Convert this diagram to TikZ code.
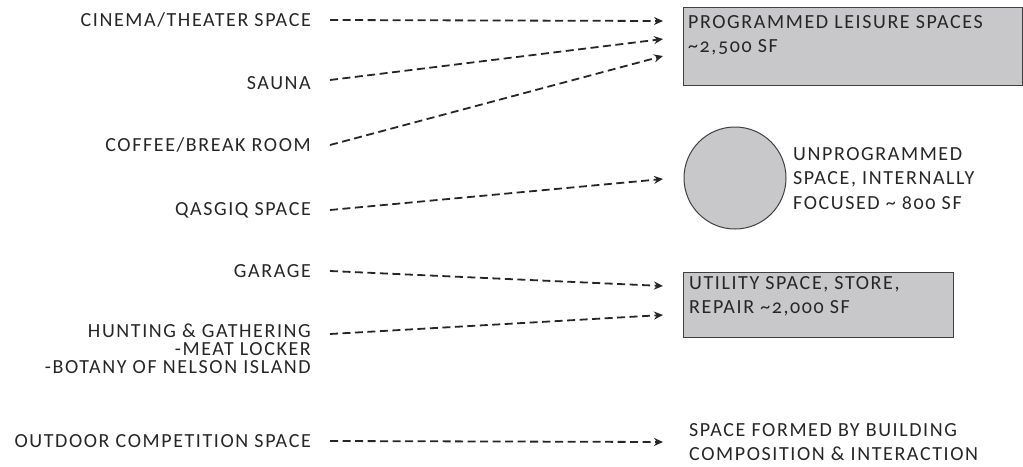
\documentclass[tikz,border=0pt]{standalone}
\usepackage{fontspec}
\setmainfont{Carlito}[Numbers=OldStyle,LetterSpace=8]
\usetikzlibrary{positioning,arrows.meta}
\definecolor{roomgray}{RGB}{200,199,201}
\definecolor{inkgray}{RGB}{38,38,38}

\begin{document}
\begin{tikzpicture}
      [x=1pt,y=-1pt,
      every node/.style={font=\fontsize{20}{15}\selectfont,text=inkgray,inner sep=0pt},
      use/.style={anchor=east,align=right},
      flow/.style={draw=inkgray,line width=1.8pt,dash pattern=on 8pt off 4.5pt,-{Stealth[length=9pt,width=8pt]}},
      room/.style={draw=black!75,fill=roomgray,line width=1pt,anchor=north west},
      roomtext/.style={anchor=north west,align=left,font=\fontsize{20}{24.5}\selectfont}]
     \useasboundingbox (0,0) rectangle (1023,466);
     % program uses
     \node[use] (cinema) at (311,20) {CINEMA/THEATER SPACE};
     \node[use] (sauna) at (311,83) {SAUNA};
     \node[use] (coffee) at (311,145) {COFFEE/BREAK ROOM};
     \node[use] (qasgiq) at (311,210) {QASGIQ SPACE};
     \node[use] (garage) at (311,271) {GARAGE};
     \node[use] (hunting) at (311,331) {HUNTING \& GATHERING};
     \node[use,below=4.5pt of hunting.south east,anchor=north east] (meat) {-MEAT LOCKER};
     \node[use,below=4.5pt of meat.south east,anchor=north east] (botany) {-BOTANY OF NELSON ISLAND};
     \node[use] (outdoor) at (311,441) {OUTDOOR COMPETITION SPACE};
     % spaces
     \node[room,minimum width=339pt,minimum height=78pt] (leisure) at (683,7) {};
     \node[roomtext] (leisuretxt) at (688,15) {PROGRAMMED LEISURE SPACES\\\textasciitilde2,500 SF};
     \node[room,circle,anchor=center,minimum size=102pt] (qspace) at (735,178) {};
     \node[roomtext] (qspacetxt) at (793,147) {UNPROGRAMMED\\SPACE, INTERNALLY\\FOCUSED \textasciitilde\ 800 SF};
     \node[room,minimum width=270pt,minimum height=65pt] (utility) at (683,272) {};
     \node[roomtext] (utilitytxt) at (689,276) {UTILITY SPACE, STORE,\\REPAIR \textasciitilde2,000 SF};
     \node[roomtext] (formed) at (689,423) {SPACE FORMED BY BUILDING\\COMPOSITION \& INTERACTION};
     % arrow ends
     \coordinate (lei1) at (663,21);
     \coordinate (lei2) at (663,39);
     \coordinate (lei3) at (663,56);
     \coordinate (qsp) at (663,179);
     \coordinate (uti1) at (663,286);
     \coordinate (uti2) at (663,315);
     \coordinate (frm) at (663,442);
     \draw[flow] ([xshift=19pt]cinema.east) -- (lei1);
     \draw[flow] ([xshift=19pt,yshift=3pt]sauna.east) -- (lei2);
     \draw[flow] ([xshift=19pt]coffee.east) -- (lei3);
     \draw[flow] ([xshift=19pt]qasgiq.east) -- (qsp);
     \draw[flow] ([xshift=19pt]garage.east) -- (uti1);
     \draw[flow] ([xshift=19pt,yshift=-3pt]hunting.east) -- (uti2);
     \draw[flow] ([xshift=19pt]outdoor.east) -- (frm);
    \end{tikzpicture}
\end{document}
